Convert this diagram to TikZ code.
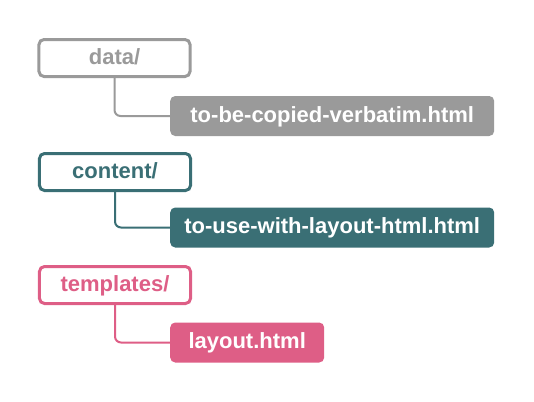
\documentclass[tikz,border=0pt]{standalone}
\usepackage{fontspec}
\setmainfont{Liberation Sans}
\begin{document}
\definecolor{greyc}{HTML}{9A9A9A}
\definecolor{tealc}{HTML}{3A6F75}
\definecolor{pinkc}{HTML}{DE5E86}
\begin{tikzpicture}[x=1bp,y=-1bp,
  every node/.style={font=\fontsize{22bp}{26bp}\selectfont\bfseries,
    inner sep=0pt, text height=16bp, text depth=4bp},
  folder/.style={draw=#1, text=#1, line width=3bp, rounded corners=5bp,
    fill=white, minimum width=151bp, minimum height=37bp},
  file/.style={fill=#1, text=white, rounded corners=5bp,
    minimum height=40bp, anchor=west},
  branch/.style={draw=#1, line width=2bp, rounded corners=6bp}]
\useasboundingbox (0,0) rectangle (534,401);

% data/ and its file
\node[folder=greyc] (data) at (114.5,58) {data/};
\node[file=greyc, minimum width=324bp] (verbatim) at (170,116) {to-be-copied-verbatim.html};
\draw[branch=greyc] (data.south) |- (verbatim.west);

% content/ and its file
\node[folder=tealc] (content) at (115,172) {content/};
\node[file=tealc, minimum width=324bp] (uselayout) at (170,227.5) {to-use-with-layout-html.html};
\draw[branch=tealc] (content.south) |- (uselayout.west);

% templates/ and its file
\node[folder=pinkc] (templates) at (115,285) {templates/};
\node[file=pinkc, minimum width=154bp] (layout) at (170,342.5) {layout.html};
\draw[branch=pinkc] (templates.south) |- (layout.west);
\end{tikzpicture}
\end{document}
